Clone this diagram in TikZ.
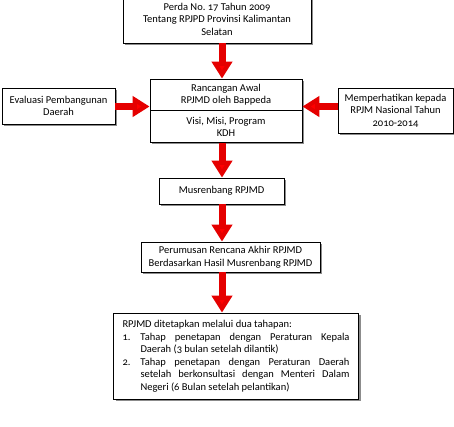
\documentclass[tikz,border=0pt]{standalone}
\usepackage{fontspec}
\setmainfont{Carlito}[Numbers=OldStyle]
\usetikzlibrary{arrows.meta,shadows,calc}
\tikzset{
  boxnode/.style={draw=black, line width=0.8pt, fill=white, align=center, inner sep=1pt,
    font=\fontsize{10.5}{12.5}\selectfont,
    drop shadow={shadow xshift=2pt, shadow yshift=-2pt, fill=black, opacity=0.45}},
  plainbox/.style={draw=black, line width=0.8pt, fill=white, align=center, inner sep=1pt,
    font=\fontsize{10.5}{12.5}\selectfont},
  redarrow/.style={draw=red!90!black, line width=7pt,
    -{Triangle[width=20pt,length=17pt,fill=red]}, shorten >=0pt}
}
\begin{document}
\begin{tikzpicture}[x=1pt,y=-1pt]
\useasboundingbox (0,0) rectangle (454,426);
\node[boxnode, minimum width=188pt, minimum height=48pt] (b1) at (217,19)
  {Perda No.\ 17 Tahun 2009\\Tentang RPJPD Provinsi Kalimantan\\Selatan};
% combined box 2 with shadow
\fill[black, opacity=0.45] (152,81) rectangle (304,144);
\node[plainbox, minimum width=152pt, minimum height=31pt] (b2a) at (226,94.5)
  {Rancangan Awal\\RPJMD oleh Bappeda};
\node[plainbox, minimum width=152pt, minimum height=32pt, anchor=north] (b2b) at (b2a.south)
  {Visi, Misi, Program\\KDH};
\node[boxnode, minimum width=113pt, minimum height=36pt] (lb) at (58.5,106)
  {Evaluasi Pembangunan\\Daerah};
\node[boxnode, minimum width=115pt, minimum height=45pt] (rb) at (395.5,110.5)
  {Memperhatikan kepada\\RPJM Nasional Tahun\\2010-2014};
\node[boxnode, minimum width=125pt, minimum height=26pt] (b3) at (221.5,191)
  {Musrenbang RPJMD};
\node[boxnode, minimum width=179pt, minimum height=30pt] (b4) at (230.5,257)
  {Perumusan Rencana Akhir RPJMD\\Berdasarkan Hasil Musrenbang RPJMD};
\node[boxnode, minimum width=245pt, minimum height=86pt, align=justify, text width=227pt, inner sep=0pt] (b5) at (236,356)
  {\parindent=0pt\parskip=0pt\lineskiplimit=-20pt\lineskip=0pt\hyphenpenalty=10000 RPJMD ditetapkan melalui dua tahapan:\par
   \hangindent=18pt\hangafter=1 \makebox[18pt][l]{1.}Tahap penetapan dengan Peraturan Kepala\linebreak Daerah (3 bulan setelah dilantik)\par
   \hangindent=18pt\hangafter=1 \makebox[18pt][l]{2.}Tahap penetapan dengan Peraturan Daerah\linebreak setelah berkonsultasi dengan Menteri Dalam\linebreak Negeri (6 Bulan setelah pelantikan)\par};
\coordinate (ax) at (222,0);
\coordinate (ay) at (0,106.5);
\draw[redarrow] (b1.south -| ax) -- (b2a.north -| ax);
\draw[redarrow] (b2b.south -| ax) -- (b3.north -| ax);
\draw[redarrow] (b3.south -| ax) -- (b4.north -| ax);
\draw[redarrow] (b4.south -| ax) -- (b5.north -| ax);
\draw[redarrow] (lb.east |- ay) -- (b2a.west |- ay);
\draw[redarrow] (rb.west |- ay) -- (b2a.east |- ay);
\end{tikzpicture}
\end{document}
